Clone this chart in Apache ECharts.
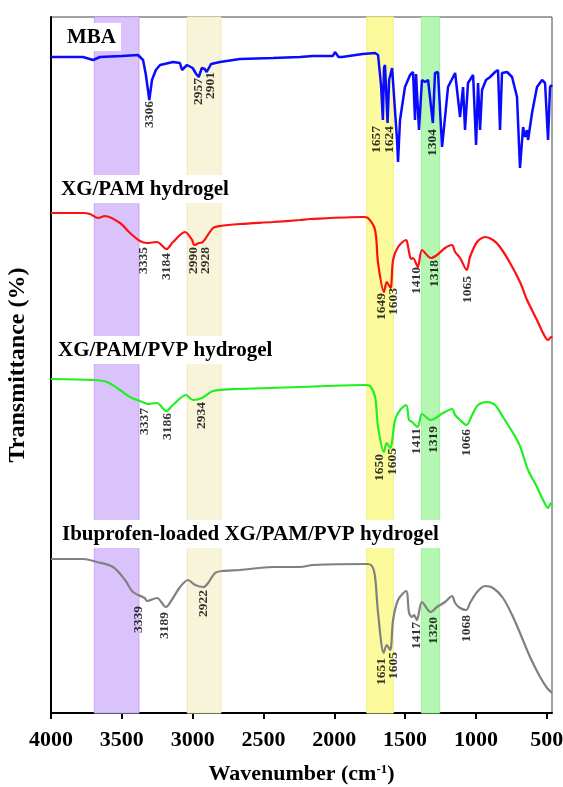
<!DOCTYPE html>
<html>
<head>
<meta charset="utf-8">
<script src="https://cdn.jsdelivr.net/npm/echarts@6/dist/echarts.min.js"></script>
<style>
html,body{margin:0;padding:0;background:#fff;}
#chart{width:563px;height:787px;}
</style>
</head>
<body>
<div id="chart"></div>
<script>
// ---- data (wavenumber cm-1, offset transmittance in arbitrary units) ----
const xTicks = [4000, 3500, 3000, 2500, 2000, 1500, 1000, 500];

const mba = [[4000,656],[3774,656],[3703,653],[3654,656],[3500,657],[3386,658],[3350,653],[3330,638],[3306,613],[3287,633],[3260,643],[3230,648],[3139,651],[3090,650],[3075,643],[3040,648],[3000,645],[2975,639],[2957,636],[2935,645],[2915,644],[2901,641],[2870,649],[2807,651],[2666,654],[2433,655],[2242,656],[2150,657],[2010,657],[1995,661],[1970,656],[1945,656],[1800,659],[1712,660],[1691,658],[1670,628],[1657,593],[1649,645],[1642,648],[1624,590],[1613,633],[1592,645],[1578,646],[1557,573],[1550,551],[1536,593],[1501,626],[1465,638],[1444,641],[1430,593],[1423,639],[1402,583],[1381,633],[1359,631],[1338,633],[1304,590],[1289,640],[1268,641],[1239,566],[1197,626],[1147,640],[1112,596],[1091,626],[1077,583],[1056,630],[1020,638],[999,568],[985,630],[971,583],[957,623],[929,633],[900,636],[865,641],[844,643],[830,583],[816,640],[780,641],[745,636],[710,616],[689,545],[667,586],[653,576],[639,583],[632,573],[604,600],[569,626],[533,633],[512,630],[491,573],[477,626],[463,628]];

const xgPam = [[4000,500],[3774,500],[3725,499],[3668,495],[3619,497],[3513,490],[3442,480],[3372,472],[3322,470],[3252,471],[3184,464],[3139,471],[3054,481],[3004,473],[2990,468],[2955,470],[2928,471],[2856,485],[2807,487],[2666,489],[2433,491],[2242,493],[2171,494],[1797,496],[1762,495],[1712,483],[1691,450],[1649,421],[1630,431],[1603,425],[1585,453],[1550,466],[1493,473],[1479,466],[1458,454],[1444,455],[1410,446],[1381,463],[1318,455],[1275,458],[1218,465],[1169,468],[1147,461],[1112,455],[1065,443],[1042,456],[992,471],[936,476],[879,473],[830,466],[759,450],[689,431],[639,413],[569,393],[526,380],[491,373],[470,376],[463,375]];

const xgPamPvp = [[4000,334],[3703,333],[3605,331],[3513,323],[3442,316],[3337,310],[3322,309],[3252,310],[3186,302],[3139,308],[3047,318],[2997,313],[2934,315],[2856,322],[2666,324],[2242,326],[1783,328],[1748,327],[1712,316],[1691,286],[1650,261],[1630,270],[1605,265],[1571,293],[1536,303],[1493,308],[1472,293],[1451,291],[1411,286],[1381,299],[1319,293],[1232,300],[1169,304],[1147,298],[1112,293],[1066,288],[1027,298],[985,308],[922,311],[865,308],[809,296],[738,280],[689,267],[632,243],[569,226],[526,213],[491,205],[470,210],[463,208]];

const ibuLoaded = [[4000,154],[3774,154],[3675,151],[3562,146],[3477,133],[3421,121],[3339,115],[3322,112],[3252,115],[3189,106],[3139,115],[3089,126],[3033,133],[2983,128],[2922,126],[2891,130],[2842,140],[2793,142],[2666,143],[2433,146],[2242,146],[2150,148],[1769,149],[1734,147],[1712,136],[1691,100],[1651,60],[1630,68],[1605,63],[1585,93],[1550,113],[1493,122],[1472,100],[1451,96],[1437,98],[1417,93],[1381,111],[1320,101],[1275,106],[1218,111],[1169,117],[1147,110],[1112,105],[1068,103],[1042,110],[992,121],[936,127],[879,125],[809,115],[738,96],[689,80],[618,56],[547,36],[498,25],[463,20]];

// peak labels: [text, wavenumber position, level]
const mbaPeaks = [['3306',3301,612],['2957',2962,635],['2901',2877,641],['1657',1702,587],['1624',1613,587],['1304',1310,584]];
const xgPamPeaks = [['3335',3350,466],['3184',3188,460],['2990',2997,466],['2928',2906,466],['1649',1670,420],['1603',1585,425],['1410',1416,446],['1318',1289,453],['1065',1056,437]];
const xgPamPvpPeaks = [['3337',3343,305],['3186',3174,300],['2934',2934,311],['1650',1684,259],['1605',1592,265],['1411',1416,285],['1319',1296,287],['1066',1063,284]];
const ibuPeaks = [['3339',3379,107],['3189',3202,101],['2922',2920,123],['1651',1670,55],['1605',1585,61],['1417',1423,91],['1320',1296,96],['1068',1070,98]];

// highlighted bands [from, to]
const bands = [[3694,3379],[3038,2800],[1771,1583],[1385,1256]];
const bandColors = ['#dac2fb','#f8f4d9','#fbfb9e','#b4f7b2'];
const bandBorders = ['#c9a3f5','#efe6bc','#f0f080','#9ef09c'];

const seriesNames = ['MBA','XG/PAM hydrogel','XG/PAM/PVP hydrogel','Ibuprofen-loaded XG/PAM/PVP hydrogel'];

// ---- chart ----
const SERIF = "'Liberation Serif','Times New Roman',serif";
const chart = echarts.init(document.getElementById('chart'));

function lineSeries(name, data, color, width, smooth) {
  return {
    name, type: 'line', data, showSymbol: false, symbol: 'none',
    smooth: smooth, lineStyle: { color, width }, z: 3, animation: false
  };
}
function peakSeries(peaks) {
  return {
    type: 'scatter', symbol: 'circle', symbolSize: 1, z: 4, animation: false,
    itemStyle: { color: 'rgba(0,0,0,0)' },
    data: peaks.map(p => ({ value: [p[1], p[2]], name: p[0] })),
    label: {
      show: true, position: 'inside', formatter: '{b}', rotate: 90,
      align: 'right', verticalAlign: 'middle',
      color: '#000', fontFamily: SERIF, fontWeight: 'bold', fontSize: 13.5
    },
    emphasis: { disabled: true }, silent: true
  };
}

const markAreaSeries = {
  type: 'line', data: [], z: 1, silent: true, animation: false,
  markArea: {
    silent: true,
    data: bands.map((b, i) => [
      { xAxis: b[0], itemStyle: { color: bandColors[i], borderColor: bandBorders[i], borderWidth: 1 } },
      { xAxis: b[1] }
    ])
  }
};

const titleTops = [23, 175, 336, 520];
const titleLefts = [62, 56, 53, 57];

const option = {
  backgroundColor: '#fff',
  animation: false,
  grid: {
    left: 51, right: 11, top: 17, bottom: 74,
    show: true, borderColor: '#444', borderWidth: 1,
    outerBoundsMode: 'none', containLabel: false
  },
  xAxis: {
    type: 'value', inverse: true, min: 463, max: 4000,
    axisLine: { show: true, onZero: false, lineStyle: { color: '#000', width: 2 } },
    axisTick: { show: true, customValues: xTicks, length: 6, lineStyle: { color: '#000', width: 2 } },
    axisLabel: {
      show: true, customValues: xTicks, margin: 16, formatter: v => String(v),
      color: '#000', fontFamily: SERIF, fontWeight: 'bold', fontSize: 22
    },
    splitLine: { show: false },
    name: '{a|Wavenumber (cm}{s|-1}{a|)}',
    nameLocation: 'middle', nameGap: 50,
    nameTextStyle: {
      rich: {
        a: { fontFamily: SERIF, fontWeight: 'bold', fontSize: 22, color: '#000' },
        s: { fontFamily: SERIF, fontWeight: 'bold', fontSize: 13, color: '#000', verticalAlign: 'top', padding: [0,0,10,0] }
      }
    }
  },
  yAxis: {
    type: 'value', min: 0, max: 696,
    axisLine: { show: true, lineStyle: { color: '#000', width: 2 } },
    axisTick: { show: false }, axisLabel: { show: false }, splitLine: { show: false },
    name: 'Transmittance (%)', nameLocation: 'middle', nameGap: 21,
    nameTextStyle: { fontFamily: SERIF, fontWeight: 'bold', fontSize: 24, color: '#000' }
  },
  graphic: seriesNames.map((t, i) => ({
    type: 'text', left: titleLefts[i], top: titleTops[i], z: 100,
    style: {
      text: t, font: 'bold 21px ' + SERIF, fill: '#000',
      backgroundColor: '#fff', padding: [4, 5, 3, 5]
    }
  })),
  series: [
    markAreaSeries,
    lineSeries(seriesNames[0], mba, '#0a0aff', 2.5, false),
    lineSeries(seriesNames[1], xgPam, '#ff1010', 2.2, 0.3),
    lineSeries(seriesNames[2], xgPamPvp, '#1ff01f', 2.2, 0.3),
    lineSeries(seriesNames[3], ibuLoaded, '#808080', 2.2, 0.3),
    peakSeries(mbaPeaks),
    peakSeries(xgPamPeaks),
    peakSeries(xgPamPvpPeaks),
    peakSeries(ibuPeaks)
  ]
};
chart.setOption(option);
</script>
</body>
</html>
